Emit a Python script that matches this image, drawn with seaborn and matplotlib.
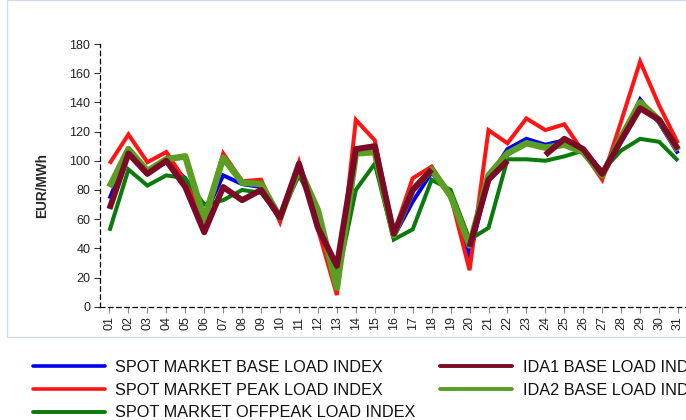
import numpy as np
import pandas as pd
import matplotlib
matplotlib.use("Agg")
import matplotlib.pyplot as plt
from matplotlib.lines import Line2D
from matplotlib.patches import Rectangle
import seaborn as sns

# days of the month and their tick labels
days = list(range(1, 32))
day_labels = [f"{d:02d}" for d in days]

# EUR/MWh (NaN = no value that day)
spot_base = [74, 105, 92, 99, 88, 62, 90, 84, 82, 61, 97, 57, 22, 107, 109, 48,
             72, 92, 76, 35, 88, 108, 115, 111, 114, 108, 92, 115, 142, 126, 105]
spot_peak = [98, 118, 99, 106, 86, 60, 105, 86, 87, 58, 99, 53, 8, 128, 114, 50,
             88, 96, 76, 25, 121, 112, 129, 121, 125, 106, 87, 127, 168, 138, 112]
spot_offpeak = [52, 94, 83, 90, 88, 70, 73, 80, 78, 62, 90, 65, 17, 80, 98, 46,
                53, 87, 80, 46, 54, 101, 101, 100, 103, 107, 93, 107, 115, 113, 100]
ida1_base = [67, 105, 91, 100, 82, 51, 82, 73, 80, 61, 98, 54, 28, 108, 110, 50,
             80, 94, np.nan, 41, 87, 100, np.nan, 104, 115, 108, 91, 114, 136, 128, 108]
ida2_base = [82, 108, 93, 101, 103, 60, 102, 85, 84, 61, 95, 66, 13, 105, 106, 49,
             80, 94, 76, 42, 90, 105, 112, 109, 111, 106, 90, 116, 140, 128, 107]

series_names = ["SPOT MARKET BASE LOAD INDEX", "SPOT MARKET PEAK LOAD INDEX",
                "SPOT MARKET OFFPEAK LOAD INDEX", "IDA1 BASE LOAD INDEX",
                "IDA2 BASE LOAD INDEX"]
series_values = [spot_base, spot_peak, spot_offpeak, ida1_base, ida2_base]
colors = ["#0000ee", "#ff1414", "#0a7a0a", "#7b0a26", "#5a9e23"]
widths = [2.9, 2.9, 2.9, 4.3, 4.7]
joins = ["miter", "miter", "miter", "round", "round"]
legend_widths = [2.6, 2.6, 2.8, 2.8, 2.8]
draw_order = [0, 1, 2, 4, 3]


def to_segments(values):
    """Long frame with a segment id that changes after every gap."""
    seg, rows = 0, []
    for d, v in zip(days, values):
        if np.isnan(v):
            seg += 1
            continue
        rows.append((d, v, seg))
    return pd.DataFrame(rows, columns=["day", "value", "segment"])


sns.set_style("white")
plt.rcParams["font.family"] = ["Liberation Sans", "DejaVu Sans"]

fig = plt.figure(figsize=(6.86, 4.2), dpi=100)
ax = fig.add_axes([100 / 686, 1 - 306.7 / 420, 587.5 / 686, 262.7 / 420])

for i in draw_order:
    df = to_segments(np.array(series_values[i], dtype=float))
    sns.lineplot(data=df, x="day", y="value", units="segment", estimator=None,
                 color=colors[i], lw=widths[i], ax=ax, legend=False,
                 solid_joinstyle=joins[i], solid_capstyle="butt")

ax.set_xlim(0.5, 31.5)
ax.set_ylim(0, 180)
ax.set_yticks(range(0, 181, 20))
ax.set_xticks(days)
ax.set_xticklabels(day_labels, rotation=90)
ax.set_xlabel("")
ax.set_ylabel("EUR/MWh", fontsize=9.8, fontweight="bold")
ax.yaxis.set_label_coords(-(100 - 49) / 587.5, 0.46)

for side in ["top", "right"]:
    ax.spines[side].set_visible(False)
for side in ["left", "bottom"]:
    ax.spines[side].set_linestyle((0, (3.5, 3)))
    ax.spines[side].set_linewidth(0.9)
    ax.spines[side].set_color("black")

ax.tick_params(axis="y", length=4, width=0.8, color="#333333", pad=3,
               labelsize=9, labelcolor="#222222", left=True)
ax.tick_params(axis="x", length=4, width=0.8, color="#888888", pad=3,
               labelsize=9, labelcolor="#222222", bottom=True)

# light panel border around the chart area
fig.add_artist(Rectangle((7 / 686, 1 - 337 / 420), 700 / 686, 337 / 420,
                         transform=fig.transFigure, fill=False,
                         edgecolor="#cfdbe8", lw=1.0))

handles = [Line2D([], [], color=c, lw=w) for c, w in zip(colors, legend_widths)]
fig.legend(handles, series_names, ncol=2, loc="upper left",
           bbox_to_anchor=(33 / 686, 1 - 360 / 420), frameon=False,
           fontsize=11.7, handlelength=4.43, handletextpad=0.62,
           columnspacing=1.54, labelspacing=0.47, borderpad=0,
           borderaxespad=0, labelcolor="#111111")

fig.savefig("out.png", dpi=100)
